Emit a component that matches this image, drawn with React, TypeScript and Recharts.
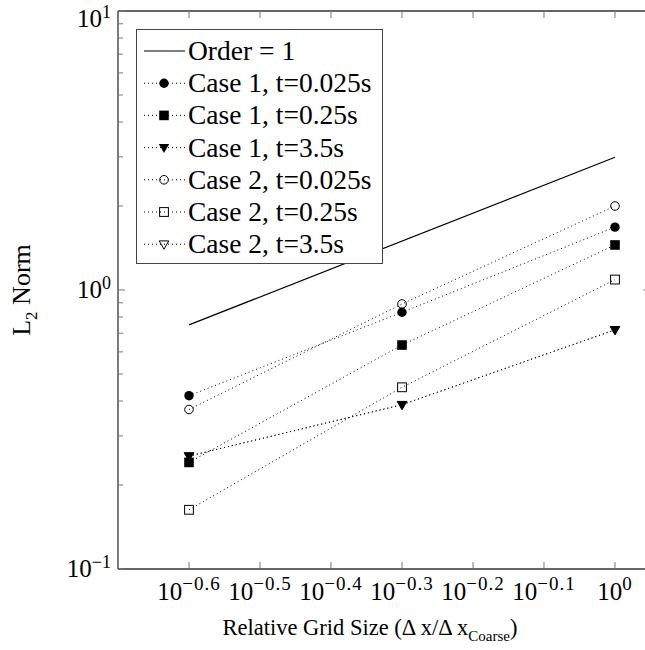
import React from 'react';
import { ComposedChart, Line, XAxis, YAxis, Legend } from 'recharts';

// grid sizes: 10^-0.6, 10^-0.3, 10^0
const gridSize = [0.2512, 0.5012, 1];
const orderOne = [0.75, null, 2.99];
const case1Early = [0.418, 0.832, 1.68];
const case1Mid = [0.241, 0.635, 1.45];
const case1Late = [0.254, 0.388, 0.72];
const case2Early = [0.373, 0.891, 2.0];
const case2Mid = [0.163, 0.448, 1.09];
const case2Late = [0.254, 0.388, 0.72];

const xTickValues = [0.2512, 0.3162, 0.3981, 0.5012, 0.631, 0.7943, 1];
const xTickExps = ['\u22120.6', '\u22120.5', '\u22120.4', '\u22120.3', '\u22120.2', '\u22120.1', '0'];
const yTickValues = [0.1, 0.2, 0.3, 0.4, 0.5, 0.6, 0.7, 0.8, 0.9, 1, 2, 3, 4, 5, 6, 7, 8, 9, 10];
const yMajorValues = [0.1, 1, 10];
const yMajorExps = ['\u22121', '0', '1'];

const SERIF = '"Liberation Serif", "Times New Roman", serif';
const LEFT = 118;
const TOP = 11;
const BOTTOM = 569;
const RIGHT = 650.5;
const CHART_W = 660;
const CHART_H = 650;

const series = [
  { key: 'c1a', name: 'Case 1, t=0.025s', values: case1Early, mark: 'circle' },
  { key: 'c1b', name: 'Case 1, t=0.25s', values: case1Mid, mark: 'square' },
  { key: 'c1c', name: 'Case 1, t=3.5s', values: case1Late, mark: 'tri' },
  { key: 'c2a', name: 'Case 2, t=0.025s', values: case2Early, mark: 'circleOpen' },
  { key: 'c2b', name: 'Case 2, t=0.25s', values: case2Mid, mark: 'squareOpen' },
  { key: 'c2c', name: 'Case 2, t=3.5s', values: case2Late, mark: 'triOpen' },
];

const data = gridSize.map((x, i) => {
  const row: any = { x, order: orderOne[i] };
  series.forEach((s) => { row[s.key] = s.values[i]; });
  return row;
});

function Marker({ kind, cx, cy }: { kind: string; cx: number; cy: number }) {
  if (cx == null || cy == null) return null;
  switch (kind) {
    case 'circle':
      return <circle cx={cx} cy={cy} r={4.7} fill="#000" />;
    case 'circleOpen':
      return <circle cx={cx} cy={cy} r={4.3} fill="none" stroke="#000" strokeWidth={1} />;
    case 'square':
      return <rect x={cx - 4.8} y={cy - 4.8} width={9.6} height={9.6} fill="#000" />;
    case 'squareOpen':
      return <rect x={cx - 4.4} y={cy - 4.4} width={8.8} height={8.8} fill="none" stroke="#000" strokeWidth={1} />;
    case 'tri':
      return <polygon points={`${cx - 5.2},${cy - 3.6} ${cx + 5.2},${cy - 3.6} ${cx},${cy + 5.4}`} fill="#000" />;
    case 'triOpen':
      return <polygon points={`${cx - 4.8},${cy - 3.3} ${cx + 4.8},${cy - 3.3} ${cx},${cy + 5}`} fill="none" stroke="#000" strokeWidth={1} />;
    default:
      return null;
  }
}

const XTick = (props: any) => {
  const { payload } = props;
  const cx = payload.coordinate;
  const i = xTickValues.findIndex((v) => Math.abs(v - payload.value) < 1e-6);
  return (
    <g>
      <line x1={cx} x2={cx} y1={BOTTOM} y2={BOTTOM - 7} stroke="#777" />
      <line x1={cx} x2={cx} y1={TOP} y2={TOP + 7} stroke="#777" />
      <text x={cx} y={BOTTOM + 31} textAnchor="middle" fontFamily={SERIF} fontSize={25} fill="#000">
        10<tspan dy={-10} fontSize={19} letterSpacing={1}>{xTickExps[i]}</tspan>
      </text>
    </g>
  );
};

const YTick = (props: any) => {
  const { payload } = props;
  const cy = payload.coordinate;
  const mi = yMajorValues.findIndex((v) => Math.abs(v - payload.value) < 1e-9);
  const len = mi >= 0 ? 7 : 5;
  return (
    <g>
      <line x1={LEFT} x2={LEFT + len} y1={cy} y2={cy} stroke="#777" />
      <line x1={RIGHT} x2={RIGHT - len} y1={cy} y2={cy} stroke="#777" />
      {mi >= 0 && (
        <text x={LEFT - 7} y={Math.max(cy + 8, 27)} textAnchor="end" fontFamily={SERIF} fontSize={25} fill="#000">
          10<tspan dy={-9} fontSize={18}>{yMajorExps[mi]}</tspan>
        </text>
      )}
    </g>
  );
};

function LegendBox() {
  const rows = [{ name: 'Order = 1', mark: '' }, ...series];
  return (
    <div style={{ width: 245, height: 233, border: '1.5px solid #444', background: '#fff' }}>
      <svg width={245} height={233} style={{ display: 'block' }}>
        {rows.map((r, i) => {
          const cy = 21 + i * 32.2;
          return (
            <g key={r.name}>
              <line x1={7} x2={48} y1={cy} y2={cy} stroke="#000"
                strokeWidth={r.mark ? 1 : 1.2} strokeDasharray={r.mark ? '1 3' : undefined} />
              {r.mark && <Marker kind={r.mark} cx={27} cy={cy} />}
              <text x={51} y={cy + 9} fontFamily={SERIF} fontSize={27.5} fill="#000">{r.name}</text>
            </g>
          );
        })}
      </svg>
    </div>
  );
}

export default function App() {
  return (
    <div style={{ position: 'absolute', left: 0, top: 0, width: 645, height: 650, overflow: 'hidden', background: '#fff' }}>
      <ComposedChart width={CHART_W} height={CHART_H} data={data}
        margin={{ top: TOP - 1, left: LEFT - 1, right: CHART_W - RIGHT - 1, bottom: CHART_H - BOTTOM - 1 }}>
        <XAxis dataKey="x" type="number" scale="log" domain={[0.19953, 1.12202]} allowDataOverflow
          ticks={xTickValues} interval={0} height={1} tickSize={0} tickMargin={0}
          tick={<XTick />} tickLine={false} axisLine={{ stroke: '#333', strokeWidth: 1.3 }} />
        <XAxis xAxisId="top" orientation="top" type="number" domain={[0, 1]} height={1}
          tick={false} tickLine={false} axisLine={{ stroke: '#333', strokeWidth: 1.3 }} />
        <YAxis type="number" scale="log" domain={[0.1, 10]} allowDataOverflow
          ticks={yTickValues} interval={0} width={1} tickSize={0} tickMargin={0}
          tick={<YTick />} tickLine={false} axisLine={{ stroke: '#333', strokeWidth: 1.3 }} />
        <YAxis yAxisId="right" orientation="right" type="number" domain={[0, 1]} width={1}
          tick={false} tickLine={false} axisLine={{ stroke: '#333', strokeWidth: 1.3 }} />
        <Legend layout="vertical" align="center" verticalAlign="middle"
          wrapperStyle={{ position: 'absolute', left: 136, top: 29, width: 248, height: 236 }}
          content={() => <LegendBox />} />
        <Line dataKey="order" name="Order = 1" stroke="#000" strokeWidth={1.2} dot={false}
          connectNulls isAnimationActive={false} />
        {series.map((s) => (
          <Line key={s.key} dataKey={s.key} name={s.name} stroke="#000" strokeWidth={1}
            strokeDasharray="1 3" isAnimationActive={false}
            dot={(p: any) => <Marker key={`${s.key}-${p.index}`} kind={s.mark} cx={p.cx} cy={p.cy} />} />
        ))}
      </ComposedChart>
      <div style={{ position: 'absolute', left: 27, top: 290, transform: 'translate(-50%, -50%) rotate(-90deg)',
        fontFamily: SERIF, fontSize: 26, whiteSpace: 'nowrap', lineHeight: '28px' }}>
        L<sub style={{ fontSize: 17 }}>2</sub> Norm
      </div>
      <div style={{ position: 'absolute', left: 370, top: 614, transform: 'translateX(-50%)',
        fontFamily: SERIF, fontSize: 22.5, whiteSpace: 'nowrap', lineHeight: '28px' }}>
        Relative Grid Size ({'\u0394'} x/{'\u0394'} x<sub style={{ fontSize: 15 }}>Coarse</sub>)
      </div>
    </div>
  );
}
